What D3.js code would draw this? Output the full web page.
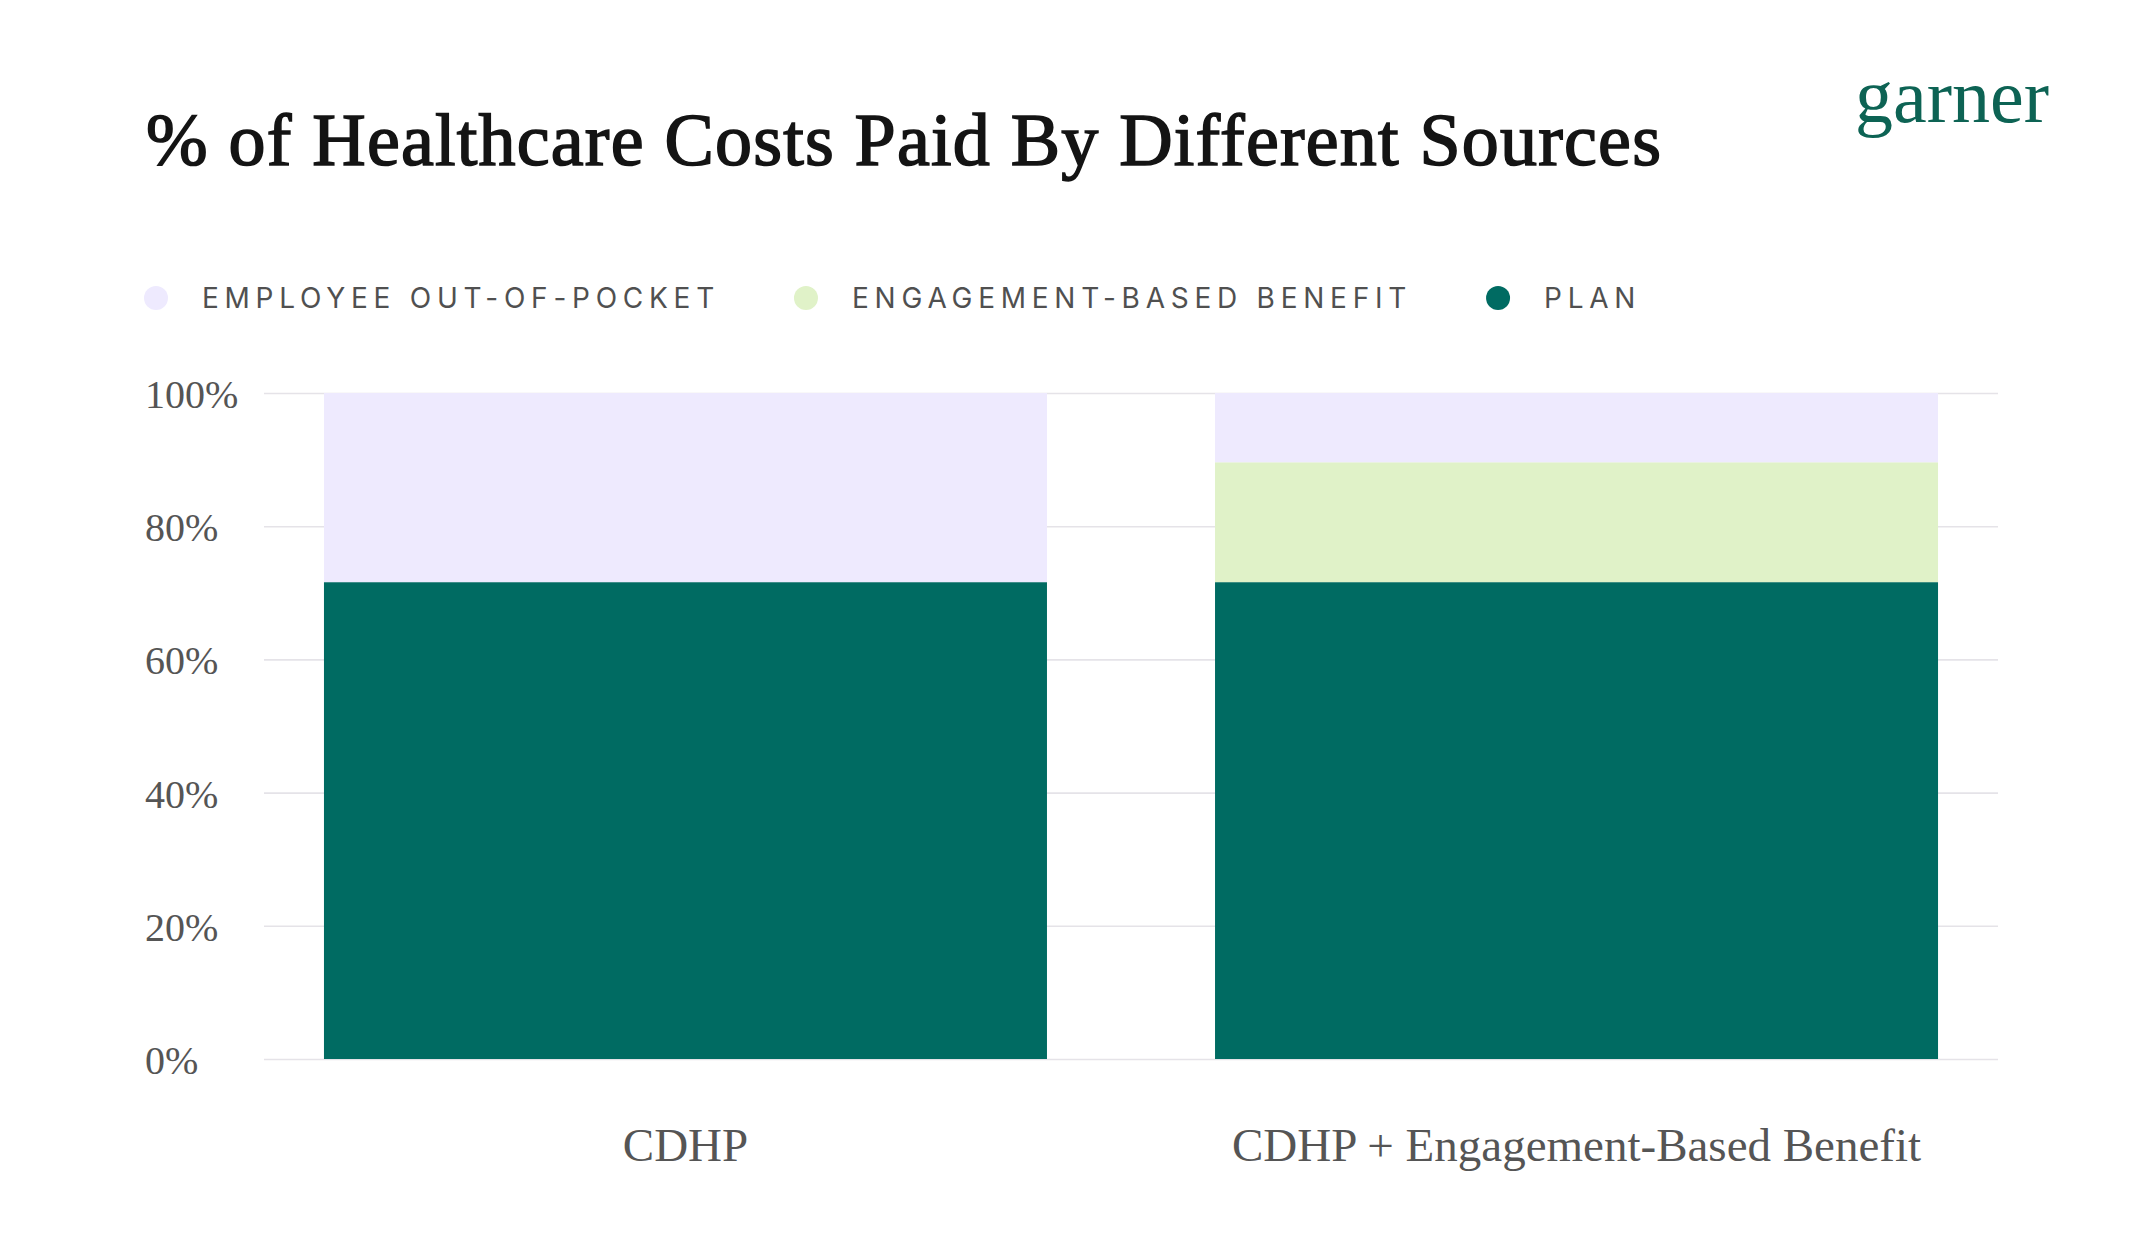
<!DOCTYPE html>
<html>
<head>
<meta charset="utf-8">
<script src="https://cdn.jsdelivr.net/npm/d3@7"></script>
<style>
  html, body { margin: 0; padding: 0; background: #ffffff; }
  svg { display: block; }
</style>
</head>
<body>
<div id="chart"></div>
<script>
// chart values
const categories = ["CDHP", "CDHP + Engagement-Based Benefit"];
const planShare = [71.6, 71.6];
const engagementShare = [0, 18.0];
const employeeShare = [28.4, 10.4];
const yTicks = [0, 20, 40, 60, 80, 100];

const seriesKeys = ["plan", "engagement", "employee"];
const legendItems = [
  { key: "employee", label: "EMPLOYEE OUT-OF-POCKET" },
  { key: "engagement", label: "ENGAGEMENT-BASED BENEFIT" },
  { key: "plan", label: "PLAN" }
];

const COLORS = {
  employee: "#eeeafe",
  engagement: "#e0f2c8",
  plan: "#006b62"
};

const width = 2142;
const height = 1254;
const margin = { top: 393, right: 144, bottom: 195, left: 264 };
const serif = "'Liberation Serif', 'Times New Roman', serif";
const sans = "Inter, Roboto, 'Noto Sans', sans-serif";

const rows = categories.map((c, i) => ({
  category: c,
  plan: planShare[i],
  engagement: engagementShare[i],
  employee: employeeShare[i]
}));

const svg = d3
  .select("#chart")
  .append("svg")
  .attr("width", width)
  .attr("height", height);

// Title (regular weight, slightly thickened to get the medium look)
svg
  .append("text")
  .attr("x", 146)
  .attr("y", 165)
  .attr("font-family", serif)
  .attr("font-size", 74)
  .attr("letter-spacing", 1.2)
  .attr("fill", "#141414")
  .attr("stroke", "#141414")
  .attr("stroke-width", 1.6)
  .text("% of Healthcare Costs Paid By Different Sources");

// Logo
svg
  .append("text")
  .attr("x", 1855)
  .attr("y", 122)
  .attr("font-family", serif)
  .attr("font-size", 76)
  .attr("fill", "#0d6354")
  .text("garner");

// Legend
const legend = svg.append("g").attr("id", "legend");
let lx = 156;
legendItems.forEach(item => {
  legend
    .append("circle")
    .attr("cx", lx)
    .attr("cy", 298)
    .attr("r", 12)
    .attr("fill", COLORS[item.key]);
  const t = legend
    .append("text")
    .attr("x", lx + 46)
    .attr("y", 308)
    .attr("font-family", sans)
    .attr("font-size", 28)
    .attr("letter-spacing", 5.75)
    .attr("fill", "#505050")
    .text(item.label);
  lx = lx + 46 + t.node().getComputedTextLength() + 86;
});

const innerW = width - margin.left - margin.right;

const x = d3
  .scaleBand()
  .domain(categories)
  .range([margin.left, width - margin.right])
  .paddingInner(0.1886)
  .paddingOuter(0.0673);

const y = d3
  .scaleLinear()
  .domain([0, 100])
  .range([height - margin.bottom, margin.top]);

// Gridlines + y labels
const yAxis = svg
  .append("g")
  .attr("transform", `translate(${margin.left},0)`)
  .call(
    d3
      .axisLeft(y)
      .tickValues(yTicks)
      .tickSize(-innerW)
      .tickFormat(d => d + "%")
  );
yAxis.select(".domain").remove();
yAxis
  .selectAll(".tick line")
  .attr("stroke", "#e5e3e8")
  .attr("stroke-width", 1.6);
yAxis
  .selectAll(".tick text")
  .attr("x", 145 - margin.left)
  .attr("dy", "0.36em")
  .attr("text-anchor", "start")
  .attr("font-family", serif)
  .attr("font-size", 40)
  .attr("fill", "#555555");

// Bars
const stacked = d3.stack().keys(seriesKeys)(rows);
svg
  .append("g")
  .attr("id", "bars")
  .selectAll("g")
  .data(stacked)
  .join("g")
  .attr("fill", d => COLORS[d.key])
  .selectAll("rect")
  .data(d => d)
  .join("rect")
  .attr("x", d => x(d.data.category))
  .attr("width", x.bandwidth())
  .attr("y", d => y(d[1]))
  .attr("height", d => y(d[0]) - y(d[1]));

// X labels
const xAxis = svg
  .append("g")
  .attr("transform", `translate(0,${height - margin.bottom})`)
  .call(d3.axisBottom(x).tickSize(0));
xAxis.select(".domain").remove();
xAxis
  .selectAll(".tick text")
  .attr("y", 102)
  .attr("dy", 0)
  .attr("font-family", serif)
  .attr("font-size", 47)
  .attr("fill", "#555555");
</script>
</body>
</html>
